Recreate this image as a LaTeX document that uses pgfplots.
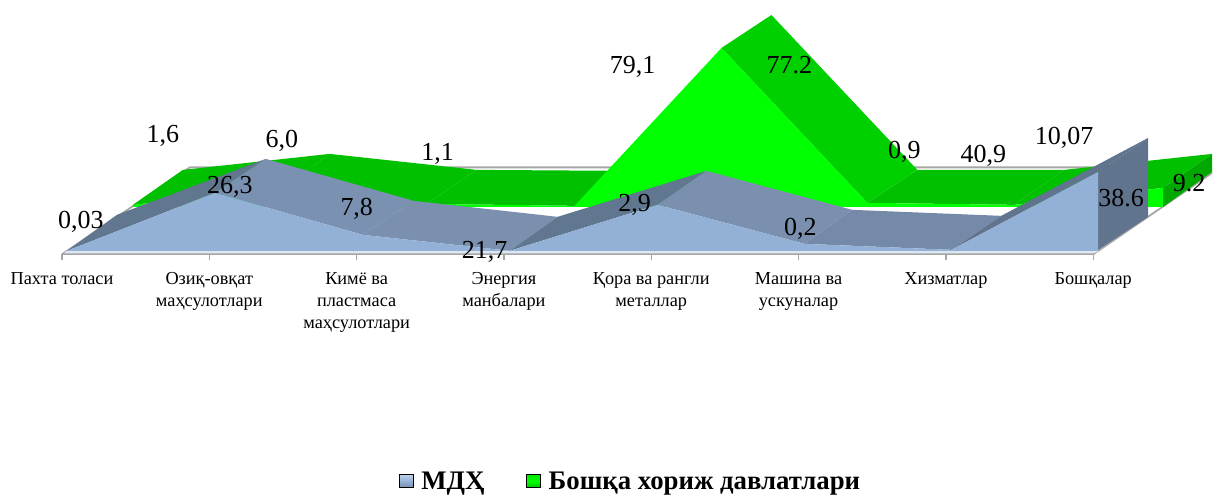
\documentclass[border=0pt]{standalone}
\usepackage{fontspec}
\setmainfont{Liberation Serif}
\usepackage{pgfplots}
\pgfplotsset{compat=1.18}
\definecolor{gback}{HTML}{00C000}
\definecolor{gmid}{HTML}{00D000}
\definecolor{gfront}{HTML}{00FF00}
\definecolor{gside}{HTML}{00A800}
\definecolor{sA}{HTML}{61778F}
\definecolor{sB}{HTML}{7B91B1}
\definecolor{sC}{HTML}{7A90AE}
\definecolor{sE}{HTML}{7589A8}
\definecolor{sD}{HTML}{60748E}
\definecolor{blue}{HTML}{93B1D7}
\definecolor{pale}{HTML}{DDE7F2}
\definecolor{axgray}{HTML}{A6A6A6}
\begin{document}
\begin{tikzpicture}
\begin{axis}[
  scale only axis, width=1032pt, height=254.5pt,
  xmin=62, xmax=1094, ymin=0, ymax=254.5,
  y dir=reverse, clip=false, enlargelimits=false,
  axis y line=none, axis x line*=bottom,
  axis line style={axgray, line width=1.8pt},
  xtick={62,209.4,356.9,504.3,651.7,799.1,946.6,1094},
  xticklabels={Пахта толаси,Озиқ-овқат\\маҳсулотлари,Кимё ва\\пластмаса\\маҳсулотлари,Энергия\\манбалари,Қора ва рангли\\металлар,Машина ва\\ускуналар,Хизматлар,Бошқалар},
  x tick label style={align=center, font=\fontsize{18.3}{22}\selectfont, text=black, yshift=-9pt},
  tick style={axgray, line width=1.2pt},
  tick align=outside, major tick length=6pt,
  legend columns=2,
  legend style={draw=none, fill=none, at={(axis cs:631,482)}, anchor=center,
    font=\fontsize{26.8}{27}\selectfont\bfseries,
    /tikz/column 2/.style={column sep=40pt}},
  legend cell align=left,
]
% picture extent
\path (axis cs:0,0) (axis cs:1213,494);
% walls
\addplot[axgray, line width=1.8pt, forget plot] coordinates {(62,254.5) (190,167.5) (1100,167.5)};
\addplot[axgray, line width=1.8pt, forget plot] coordinates {(1094,254.5) (1213,173)};
% other countries: depth faces
\addplot[fill=gside, draw=none, forget plot] coordinates {(1164,188) (1213,154) (1213,172) (1164,207)};
\addplot[fill=gback, draw=none, forget plot] coordinates {(133,205) (280,189) (330,154) (183,170)};
\addplot[fill=gback, draw=none, forget plot] coordinates {(280,189) (427,204) (477,170) (330,154)};
\addplot[fill=gback, draw=none, forget plot] coordinates {(427,204) (575,206) (625,171) (477,170)};
\addplot[fill=gback, draw=none, forget plot] coordinates {(868,203) (1015,205) (1065,170) (918,170)};
\addplot[fill=gback, draw=none, forget plot] coordinates {(1015,205) (1164,188) (1213,154) (1065,170)};
\addplot[fill=gmid, draw=none, forget plot] coordinates {(722,48) (868,203) (918,170) (772,15)};
% other countries: front
\addplot[fill=gfront, draw=none, forget plot] coordinates {(133,207) (133,205) (280,189) (427,204) (575,206) (722,48) (868,203) (1015,205) (1164,188) (1164,207)};
% CIS: depth faces
\addplot[fill=sA, draw=none, forget plot] coordinates {(67,251) (215,193) (266,159) (117,215)};
\addplot[fill=sB, draw=none, forget plot] coordinates {(215,193) (363,235) (414,201) (266,159)};
\addplot[fill=sC, draw=none, forget plot] coordinates {(363,235) (510,251) (558,217) (414,201)};
\addplot[fill=sA, draw=none, forget plot] coordinates {(510,251) (658,205) (707,171) (558,217)};
\addplot[fill=sC, draw=none, forget plot] coordinates {(658,205) (805,244) (853,210) (707,171)};
\addplot[fill=sE, draw=none, forget plot] coordinates {(805,244) (952,250) (1002,216) (853,210)};
\addplot[fill=sD, draw=none, forget plot] coordinates {(952,250) (1099,172) (1149,138) (1002,216)};
\addplot[fill=sD, draw=none, forget plot] coordinates {(1099,172) (1149,138) (1149,217) (1099,250)};
% CIS: front
\addplot[fill=pale, draw=none, forget plot] coordinates {(67,251) (1099,251) (1099,252) (1094,253.5) (64,253.5)};
\addplot[fill=blue, draw=none, forget plot] coordinates {(67,251) (215,193) (363,235) (510,251) (658,205) (805,244) (952,250) (1099,172) (1099,251)};
% data labels
\begin{scope}[every node/.style={font=\fontsize{26}{26}\selectfont, text=black, inner sep=0pt}]
\node at (axis cs:163,136) {1,6};
\node at (axis cs:81,222) {0,03};
\node at (axis cs:282,141) {6,0};
\node at (axis cs:230,187) {26,3};
\node at (axis cs:357,209) {7,8};
\node at (axis cs:438,154) {1,1};
\node at (axis cs:485,252) {21,7};
\node at (axis cs:633,67) {79,1};
\node at (axis cs:790,65) {77.2};
\node at (axis cs:635,205) {2,9};
\node at (axis cs:801,229) {0,2};
\node at (axis cs:905,152) {0,9};
\node at (axis cs:984,156) {40,9};
\node at (axis cs:1065,138) {10,07};
\node at (axis cs:1122,198) {38.6};
\node at (axis cs:1190,183) {9.2};
\end{scope}
\addlegendimage{legend image code/.code={\path (0pt,0pt) (20pt,0pt); \shade[top color=blue!60!white, bottom color=blue!80!black, middle color=blue] (0pt,-6pt) rectangle (14pt,7pt);}}
\addlegendentry{МДҲ}
\addlegendimage{legend image code/.code={\path (0pt,0pt) (20pt,0pt); \shade[top color=gfront!90!black, bottom color=gback, middle color=gfront] (0pt,-6pt) rectangle (14pt,7pt);}}
\addlegendentry{Бошқа хориж давлатлари}
\end{axis}
\end{tikzpicture}
\end{document}
